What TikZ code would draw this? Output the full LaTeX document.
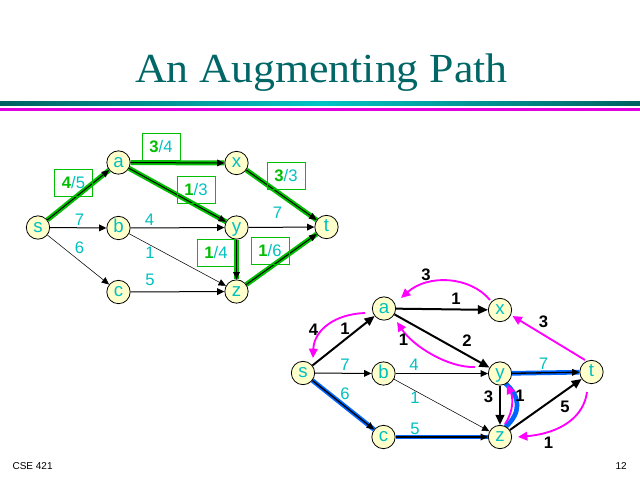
\documentclass[tikz,border=0pt]{standalone}
\usepackage{fontspec}
\setmainfont{Liberation Sans}
\newfontfamily\titlefont{Liberation Serif}
\usetikzlibrary{arrows.meta}
\definecolor{ttl}{RGB}{0,102,102}
\definecolor{tealdark}{RGB}{0,96,96}
\definecolor{tealbright}{RGB}{0,196,196}
\definecolor{magbar}{RGB}{224,0,224}
\definecolor{cyn}{RGB}{0,192,192}
\definecolor{grn}{RGB}{0,190,0}
\definecolor{blu}{RGB}{0,102,255}
\definecolor{mag}{RGB}{255,0,255}
\definecolor{nodefill}{RGB}{255,255,204}
\pgfdeclarelayer{bg}
\pgfdeclarelayer{edges}
\pgfsetlayers{bg,edges,main}
\begin{document}
\begin{tikzpicture}[x=0.75pt,y=-0.75pt,
  vtx/.style={circle,draw=black,line width=0.6pt,fill=nodefill,minimum size=17.5pt,inner sep=0pt,
    font=\fontsize{14}{14}\selectfont,text=cyn,text height=7.4pt,text depth=0pt},
  clab/.style={font=\fontsize{12.5}{12.5}\selectfont,text=cyn,inner sep=0pt},
  blab/.style={font=\fontsize{12.5}{12.5}\selectfont\bfseries,text=black,inner sep=0pt},
  gbox/.style={draw=grn,line width=0.75pt,minimum width=28.5pt,minimum height=20pt,inner sep=0pt,
    font=\fontsize{12.5}{12.5}\selectfont},
  edg/.style={draw=black,line width=0.75pt,-{Triangle[length=5.5pt,width=5pt]}},
  edghair/.style={draw=black,line width=0.4pt,-{Triangle[length=5.5pt,width=5pt]}},
  edgthick/.style={draw=black,line width=1.5pt,-{Triangle[length=7.5pt,width=6.5pt]}},
  gunder/.style={draw=grn,line width=3.75pt},
  bunder/.style={draw=blu,line width=3.5pt},
  mgarr/.style={draw=mag,line width=1.4pt,-{Triangle[length=7pt,width=6.5pt]}},
]
\begin{pgfonlayer}{bg}
\fill[white] (0,0) rectangle (640,480);
\end{pgfonlayer}
\useasboundingbox (0,0) rectangle (640,480);

% title and bars
\node[anchor=base,inner sep=0pt,text=ttl,font=\titlefont\fontsize{31}{31}\selectfont] (title) at (321.5,82.3) {\scalebox{1.06}[1]{An Augmenting Path}};
\shade[left color=tealdark,right color=tealdark,middle color=tealbright] (0,101) rectangle (640,105.7);
\fill[magbar] (0,108.3) rectangle (640,110.7);

% footer
\node[anchor=base west,inner sep=0pt,font=\fontsize{7.5}{7.5}\selectfont] (foot1) at (12.3,469.3) {CSE 421};
\node[anchor=base east,inner sep=0pt,font=\fontsize{7.5}{7.5}\selectfont] (foot2) at (627,469.3) {12};

% ---------- graph 1 ----------
\node[vtx] (s1) at (38,227.5) {s};
\node[vtx] (a1) at (118.5,162.5) {a};
\node[vtx] (b1) at (118.5,228) {b};
\node[vtx] (c1) at (118.5,292) {c};
\node[vtx] (x1) at (236.5,163) {x};
\node[vtx] (y1) at (236.5,227.5) {y};
\node[vtx] (z1) at (236.5,291.5) {z};
\node[vtx] (t1) at (326.5,227) {t};

\begin{pgfonlayer}{edges}
\draw[gunder] (s1) -- (a1);
\draw[gunder] (a1) -- (x1);
\draw[gunder] (a1) -- (y1);
\draw[gunder] (x1) -- (t1);
\draw[gunder] (y1) -- (z1);
\draw[gunder] (z1) -- (t1);
\draw[edg] (s1) -- (a1);
\draw[edg] (a1) -- (x1);
\draw[edg] (a1) -- (y1);
\draw[edg] (x1) -- (t1);
\draw[edg] (y1) -- (z1);
\draw[edg] (z1) -- (t1);
\draw[edg] (s1) -- (b1);
\draw[edghair] (s1) -- (c1);
\draw[edg] (b1) -- (y1);
\draw[edghair] (b1) -- (z1);
\draw[edg] (c1) -- (z1);
\draw[edg] (y1) -- (t1);
\end{pgfonlayer}

\node[gbox] (g1) at (73.5,183) {\textcolor{grn}{\bfseries 4}\textcolor{cyn}{/5}};
\node[gbox] (g2) at (161,147) {\textcolor{grn}{\bfseries 3}\textcolor{cyn}{/4}};
\node[gbox] (g3) at (196,190) {\textcolor{grn}{\bfseries 1}\textcolor{cyn}{/3}};
\node[gbox] (g4) at (286,176) {\textcolor{grn}{\bfseries 3}\textcolor{cyn}{/3}};
\node[gbox] (g5) at (216,253) {\textcolor{grn}{\bfseries 1}\textcolor{cyn}{/4}};
\node[gbox] (g6) at (270,251) {\textcolor{grn}{\bfseries 1}\textcolor{cyn}{/6}};
\node[clab] (l1) at (79.5,219.5) {7};
\node[clab] (l2) at (79.5,247.5) {6};
\node[clab] (l3) at (149.5,219.5) {4};
\node[clab] (l4) at (150,252.5) {1};
\node[clab] (l5) at (150,279.5) {5};
\node[clab] (l6) at (277.5,213) {7};

% ---------- graph 2 ----------
\node[vtx] (s2) at (303,373) {s};
\node[vtx] (a2) at (384,308.5) {a};
\node[vtx] (b2) at (383.5,373.5) {b};
\node[vtx] (c2) at (383.5,437) {c};
\node[vtx] (x2) at (500,310) {x};
\node[vtx] (y2) at (500,373.5) {y};
\node[vtx] (z2) at (500,437) {z};
\node[vtx] (t2) at (591.5,372) {t};

\coordinate (bz) at (505.5,427);
\coordinate (by) at (505.5,383.5);
\coordinate (m1a) at (365,313);
\coordinate (m1s) at (313,358);
\coordinate (m2x) at (490,300);
\coordinate (m2a) at (401,298);
\coordinate (m3y) at (475,367);
\coordinate (m3a) at (397,322);
\coordinate (m4t) at (585,360);
\coordinate (m4x) at (512.5,316);
\coordinate (m5t) at (587,392);
\coordinate (m5z) at (518,437);
\coordinate (m6z) at (505,424);
\coordinate (m6y) at (507,384.5);

\begin{pgfonlayer}{edges}
\draw[bunder] (s2) -- (c2);
\draw[bunder] (c2) -- (z2);
\draw[bunder] (y2) -- (t2);
\draw[bunder] (bz) .. controls (521,413) and (521,397) .. (by);
\draw[edg,line width=1pt] (s2) -- (c2);
\draw[edg,line width=1pt] (c2) -- (z2);
\draw[edg,line width=1pt] (y2) -- (t2);
\draw[edgthick] (s2) -- (a2);
\draw[edg] (s2) -- (b2);
\draw[edg] (b2) -- (y2);
\draw[edghair] (b2) -- (z2);
\draw[edgthick] (a2) -- (x2);
\draw[edgthick] (a2) -- (y2);
\draw[edgthick] (y2) -- (z2);
\draw[edgthick] (z2) -- (t2);
\end{pgfonlayer}

\draw[mgarr] (m1a) .. controls (335,314) and (314,330) .. (m1s);
\draw[mgarr] (m2x) .. controls (470,276) and (428,274) .. (m2a);
\draw[mgarr] (m3y) .. controls (448,368) and (413,346) .. (m3a);
\draw[mgarr] (m4t) -- (m4x);
\draw[mgarr] (m5t) .. controls (584,416) and (562,433) .. (m5z);
\draw[mgarr] (m6z) .. controls (514,411) and (513,397) .. (m6y);

\node[blab] (k1) at (313.5,330) {4};
\node[blab] (k2) at (345,328.5) {1};
\node[blab] (k3) at (426,275) {3};
\node[blab] (k4) at (456,298.5) {1};
\node[blab] (k5) at (403.5,340) {1};
\node[blab] (k6) at (467,341) {2};
\node[blab] (k7) at (543.5,322) {3};
\node[blab] (k8) at (488.5,397) {3};
\node[blab] (k9) at (520,396) {1};
\node[blab] (k10) at (565,407) {5};
\node[blab] (k11) at (548.5,443) {1};
\node[clab] (c21) at (345,365) {7};
\node[clab] (c22) at (345,393.5) {6};
\node[clab] (c23) at (414,365) {4};
\node[clab] (c24) at (415,397.5) {1};
\node[clab] (c25) at (415,428.5) {5};
\node[clab] (c26) at (543.5,363.5) {7};
\end{tikzpicture}
\end{document}
